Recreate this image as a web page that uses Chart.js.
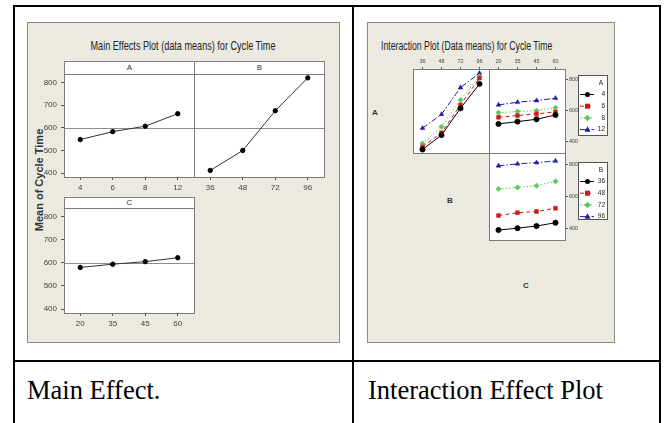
<!DOCTYPE html>
<html>
<head>
<meta charset="utf-8">
<title>Cycle Time – main effects and interactions</title>
<script src="https://cdn.jsdelivr.net/npm/chart.js@4.4.1/dist/chart.umd.min.js"></script>
<style>
  html,body{margin:0;padding:0;background:#fff}
  body{position:relative;width:665px;height:423px;overflow:hidden;font-family:'Liberation Sans',Arial,sans-serif}
  .rule{position:absolute;background:#000}
  .sheet{position:absolute;background:#ECE9E0;border:1px solid #8a8a8a;box-sizing:border-box}
  canvas{position:absolute}
  .txt{position:absolute;white-space:nowrap;line-height:1}
  .title{font-size:13px;color:#222}
  .strip{position:absolute;background:#fff;border:1px solid #808080;box-sizing:border-box;font-size:8px;line-height:12px;color:#333;text-align:center}
  .caption{position:absolute;white-space:nowrap;font-family:'Liberation Serif','Times New Roman',serif;font-size:26.5px;line-height:27px;color:#000}
  .rowlab{position:absolute;font-size:8px;font-weight:bold;color:#333;line-height:1;transform:translate(-50%,-50%)}
</style>
</head>
<body>
<!-- table grid -->
<div class="rule" style="left:13px;top:5px;width:648px;height:2px"></div>
<div class="rule" style="left:13px;top:5px;width:2px;height:418px"></div>
<div class="rule" style="left:352px;top:5px;width:2px;height:418px"></div>
<div class="rule" style="left:659px;top:5px;width:2px;height:418px"></div>
<div class="rule" style="left:13px;top:360px;width:648px;height:2px"></div>

<!-- plot sheets -->
<div class="sheet" style="left:27px;top:22px;width:313px;height:321px"></div>
<div class="sheet" style="left:367px;top:22px;width:248px;height:321px"></div>

<div class="txt title" style="left:182.5px;top:38.5px;transform:translateX(-50%) scaleX(0.70)">Main Effects Plot (data means) for Cycle Time</div>
<div class="txt title" style="left:381px;top:38.5px;transform-origin:0 50%;transform:scaleX(0.67)">Interaction Plot (Data means) for Cycle Time</div>

<div class="strip" style="left:64px;top:61px;width:131px;height:14px">A</div>
<div class="strip" style="left:194px;top:61px;width:131px;height:14px">B</div>
<div class="strip" style="left:64px;top:197px;width:131px;height:12px;line-height:10px">C</div>

<div class="txt" style="left:39px;top:180px;font-size:11px;font-weight:bold;color:#333;transform:translate(-50%,-50%) rotate(-90deg)">Mean of Cycle Time</div>

<div class="rowlab" style="left:375px;top:113px">A</div>
<div class="rowlab" style="left:450px;top:201px">B</div>
<div class="rowlab" style="left:526px;top:286px">C</div>

<div class="caption" style="left:27px;top:377px">Main Effect.</div>
<div class="caption" style="left:368px;top:377px">Interaction Effect Plot</div>

<script>
// ---- factor levels ----
const levelsA = ['4', '6', '8', '12'];
const levelsB = ['36', '48', '72', '96'];
const levelsC = ['20', '35', '45', '60'];

// ---- main effects: mean cycle time at each level ----
const meanA = [548, 583, 607, 662];
const meanB = [412, 500, 675, 820];
const meanC = [580, 594, 605, 622];
const grandMean = 600;

// ---- interaction A x B (x = B, one series per A level) ----
const abA4  = [350, 443, 616, 774];
const abA6  = [367, 458, 638, 811];
const abA8  = [389, 497, 670, 822];
const abA12 = [487, 577, 750, 843];

// ---- interaction A x C (x = C, one series per A level) ----
const acA4  = [515, 530, 545, 573];
const acA6  = [558, 569, 580, 592];
const acA8  = [588, 595, 601, 620];
const acA12 = [638, 655, 666, 681];

// ---- interaction B x C (x = C, one series per B level) ----
const bcB36 = [389, 401, 414, 435];
const bcB48 = [480, 497, 505, 525];
const bcB72 = [646, 655, 666, 693];
const bcB96 = [790, 802, 810, 820];

// ---- tick values ----
const mainTicks = [400, 500, 600, 700, 800];
const interTicks = [400, 600, 800];

const NARROW = "'Liberation Sans Narrow','Arial Narrow','Liberation Sans',sans-serif";

// line/marker style per factor level (1st..4th)
const levelStyles = [
  { color: '#000000', dash: [],              point: 'circle'   },
  { color: '#d01818', dash: [4, 3],          point: 'rect'     },
  { color: '#5cc85c', dash: [1.5, 2],        point: 'rectRot'  },
  { color: '#1c1ca8', dash: [6, 2, 1.5, 2],  point: 'triangle' }
];

function levelSeries(label, data, i) {
  const s = levelStyles[i];
  return {
    label, data,
    borderColor: s.color, backgroundColor: s.color,
    borderWidth: 1, borderDash: s.dash,
    pointStyle: s.point, pointRadius: 2.7,
    pointBackgroundColor: s.color, pointBorderColor: s.color, pointBorderWidth: 0.5,
    tension: 0
  };
}

function meanSeries(data) {
  return {
    data, borderColor: '#333', borderWidth: 1,
    pointStyle: 'circle', pointRadius: 2.2,
    pointBackgroundColor: '#000', pointBorderColor: '#000', tension: 0
  };
}

// white plot area, grand-mean line and frame
const framePlugin = {
  id: 'frame',
  beforeDraw(chart) {
    const { ctx, chartArea: a } = chart;
    ctx.save();
    ctx.fillStyle = '#fff';
    ctx.fillRect(a.left, a.top, a.right - a.left, a.bottom - a.top);
    ctx.restore();
  },
  beforeDatasetsDraw(chart, args, o) {
    if (o.refLine == null) return;
    const { ctx, chartArea: a } = chart;
    const y = Math.round(chart.scales.y.getPixelForValue(o.refLine)) + 0.5;
    ctx.save();
    ctx.strokeStyle = '#8c8c8c';
    ctx.lineWidth = 1;
    ctx.beginPath(); ctx.moveTo(a.left, y); ctx.lineTo(a.right, y); ctx.stroke();
    ctx.restore();
  },
  afterDraw(chart) {
    const { ctx, chartArea: a } = chart;
    ctx.save();
    ctx.strokeStyle = '#7a7a7a';
    ctx.lineWidth = 1;
    ctx.strokeRect(a.left + 0.5, a.top + 0.5, a.right - a.left, a.bottom - a.top);
    ctx.restore();
  }
};

function drawMarker(ctx, style, x, y, r) {
  ctx.beginPath();
  if (style === 'circle') ctx.arc(x, y, r, 0, Math.PI * 2);
  else if (style === 'rect') ctx.rect(x - r, y - r, 2 * r, 2 * r);
  else if (style === 'rectRot') {
    ctx.moveTo(x, y - r * 1.3); ctx.lineTo(x + r * 1.3, y);
    ctx.lineTo(x, y + r * 1.3); ctx.lineTo(x - r * 1.3, y); ctx.closePath();
  } else {
    ctx.moveTo(x, y - r * 1.3); ctx.lineTo(x + r * 1.2, y + r * 0.9);
    ctx.lineTo(x - r * 1.2, y + r * 0.9); ctx.closePath();
  }
  ctx.fill();
}

// boxed key to the right of an interaction panel
const keyPlugin = {
  id: 'sideKey',
  afterDraw(chart, args, o) {
    if (!o.title) return;
    const ctx = chart.ctx;
    ctx.save();
    ctx.fillStyle = '#fff';
    ctx.fillRect(o.x, o.y, o.w, o.h);
    ctx.strokeStyle = '#555';
    ctx.lineWidth = 1;
    ctx.strokeRect(o.x + 0.5, o.y + 0.5, o.w - 1, o.h - 1);
    ctx.font = '6.5px ' + NARROW;
    ctx.fillStyle = '#222';
    ctx.textAlign = 'right';
    ctx.textBaseline = 'middle';
    ctx.fillText(o.title, o.x + o.w - 5, o.y + 8);
    chart.data.datasets.forEach((ds, i) => {
      const yy = o.y + 19.5 + i * 11.7;
      ctx.strokeStyle = ds.borderColor;
      ctx.setLineDash(ds.borderDash);
      ctx.beginPath(); ctx.moveTo(o.x + 2, yy); ctx.lineTo(o.x + 16, yy); ctx.stroke();
      ctx.setLineDash([]);
      ctx.fillStyle = ds.borderColor;
      drawMarker(ctx, ds.pointStyle, o.x + 9.5, yy, 2.5);
      ctx.fillStyle = '#222';
      ctx.fillText(ds.label, o.x + o.w - 3, yy);
    });
    ctx.restore();
  }
};

// fixed axis thickness, no extra room reserved for label overhang
function fixAxis(s, size) {
  if (s.isHorizontal()) s.height = size; else s.width = size;
  s.paddingTop = 0; s.paddingBottom = 0; s.paddingLeft = 0; s.paddingRight = 0;
}

function panel(box, cfg) {
  const c = document.createElement('canvas');
  c.width = box.w; c.height = box.h;
  c.style.left = box.x + 'px'; c.style.top = box.y + 'px';
  c.style.width = box.w + 'px'; c.style.height = box.h + 'px';
  document.body.appendChild(c);
  const fs = cfg.fontSize;
  return new Chart(c, {
    type: 'line',
    data: { labels: cfg.labels, datasets: cfg.datasets },
    options: {
      responsive: false, animation: false, devicePixelRatio: 1,
      layout: { padding: cfg.padding, autoPadding: false },
      plugins: {
        legend: { display: false }, tooltip: { enabled: false }, title: { display: false },
        frame: { refLine: cfg.refLine },
        sideKey: cfg.key || {}
      },
      scales: {
        x: {
          type: 'category', offset: true,
          display: !!cfg.xPos, position: cfg.xPos || 'bottom',
          grid: { drawOnChartArea: false, drawTicks: true, tickLength: cfg.xTick, color: '#555' },
          border: { display: false },
          ticks: { font: { family: NARROW, size: fs }, color: '#444', padding: cfg.xPad, maxRotation: 0, autoSkip: false },
          afterFit(s) { fixAxis(s, cfg.xH); }
        },
        y: {
          type: 'linear', min: cfg.min, max: cfg.max,
          display: !!cfg.yPos, position: cfg.yPos || 'left',
          grid: { drawOnChartArea: false, drawTicks: true, tickLength: 3, color: '#555' },
          border: { display: false },
          afterBuildTicks(s) { s.ticks = cfg.ticks.map(v => ({ value: v })); },
          ticks: { font: { family: NARROW, size: fs }, color: '#444', padding: cfg.yPad },
          afterFit(s) { fixAxis(s, cfg.yW); }
        }
      }
    },
    plugins: [framePlugin, keyPlugin]
  });
}

// ---------- main effects ----------
const mainRange = { min: 383, max: 837 };
panel({ x: 30, y: 73, w: 165, h: 122 }, {
  labels: levelsA, datasets: [meanSeries(meanA)], ...mainRange, ticks: mainTicks,
  refLine: grandMean, xPos: 'bottom', yPos: 'left', xH: 18, yW: 34, xTick: 3, xPad: 3, yPad: 4,
  fontSize: 8, padding: { top: 1, right: 1, left: 0, bottom: 0 }
});
panel({ x: 194, y: 73, w: 131, h: 122 }, {
  labels: levelsB, datasets: [meanSeries(meanB)], ...mainRange, ticks: mainTicks,
  refLine: grandMean, xPos: 'bottom', yPos: null, xH: 18, yW: 0, xTick: 3, xPad: 3, yPad: 4,
  fontSize: 8, padding: { top: 1, right: 1, left: 0, bottom: 0 }
});
panel({ x: 30, y: 207, w: 165, h: 124 }, {
  labels: levelsC, datasets: [meanSeries(meanC)], ...mainRange, ticks: mainTicks,
  refLine: grandMean, xPos: 'bottom', yPos: 'left', xH: 18, yW: 34, xTick: 3, xPad: 3, yPad: 4,
  fontSize: 8, padding: { top: 1, right: 1, left: 0, bottom: 0 }
});

// ---------- interaction matrix ----------
const interRange = { min: 327, max: 870 };
panel({ x: 413, y: 57, w: 77, h: 97 }, {
  labels: levelsB,
  datasets: [abA4, abA6, abA8, abA12].map((d, i) => levelSeries(levelsA[i], d, i)),
  ...interRange, ticks: interTicks, refLine: null,
  xPos: 'top', yPos: null, xH: 12, yW: 0, xTick: 2, xPad: 2, yPad: 1,
  fontSize: 5.5, padding: { top: 0, right: 1, left: 0, bottom: 1 }
});
panel({ x: 489, y: 57, w: 125, h: 97 }, {
  labels: levelsC,
  datasets: [acA4, acA6, acA8, acA12].map((d, i) => levelSeries(levelsA[i], d, i)),
  ...interRange, ticks: interTicks, refLine: null,
  xPos: 'top', yPos: 'right', xH: 12, yW: 13, xTick: 2, xPad: 2, yPad: 1,
  fontSize: 5.5, padding: { top: 0, right: 36, left: 0, bottom: 1 },
  key: { title: 'A', x: 89, y: 18, w: 30, h: 61 }
});
panel({ x: 489, y: 152, w: 125, h: 89 }, {
  labels: levelsC,
  datasets: [bcB36, bcB48, bcB72, bcB96].map((d, i) => levelSeries(levelsB[i], d, i)),
  ...interRange, ticks: interTicks, refLine: null,
  xPos: null, yPos: 'right', xH: 0, yW: 13, xTick: 2, xPad: 2, yPad: 1,
  fontSize: 5.5, padding: { top: 1, right: 36, left: 0, bottom: 1 },
  key: { title: 'B', x: 89, y: 10, w: 30, h: 58 }
});
</script>
</body>
</html>
